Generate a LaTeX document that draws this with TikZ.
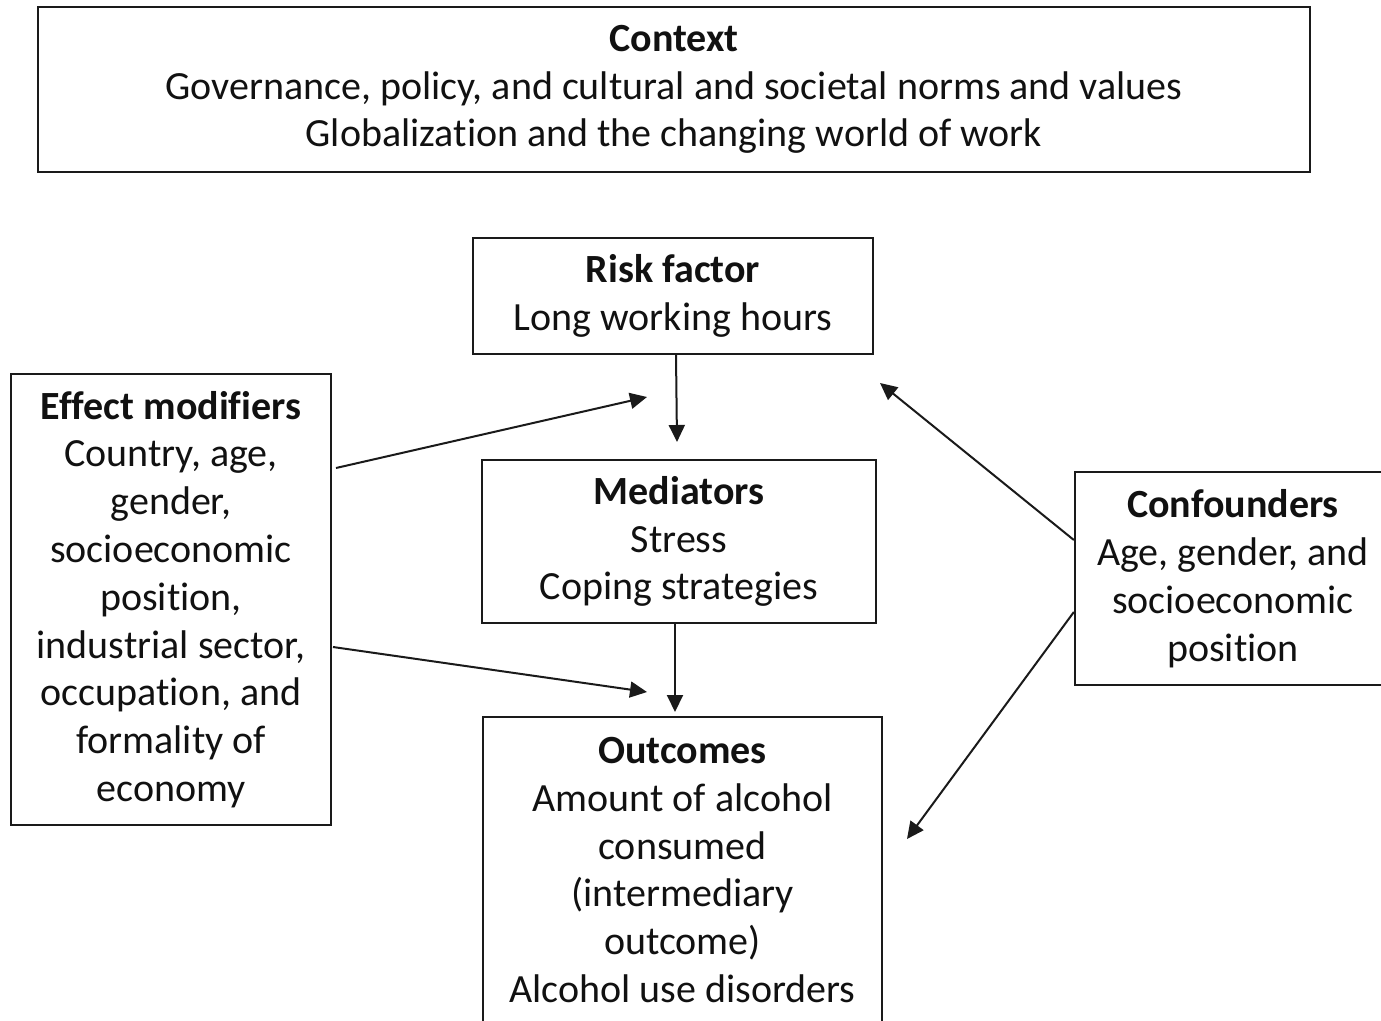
\documentclass[tikz,border=0pt]{standalone}
\usepackage{fontspec}
\setmainfont{Carlito}[Ligatures=NoCommon]
\usetikzlibrary{arrows.meta}
\definecolor{FrameInk}{HTML}{1A1A1A}
\definecolor{TextInk}{HTML}{111111}

\begin{document}
\begin{tikzpicture}[x=1pt,y=-1pt,
    box/.style={draw=FrameInk, line width=2.3pt, align=center, text=TextInk,
      inner sep=0pt, font=\fontsize{40pt}{47.8pt}\selectfont},
    link/.style={draw=FrameInk, line width=2pt, -{Triangle[length=17pt,width=16pt]}}]
  \useasboundingbox (0,0) rectangle (1381,1020);
  \clip (0,0) rectangle (1381,1020);
  % boxes, placed at their centres
  \node[box, minimum width=1272pt, minimum height=165pt] (ctx) at (674,89.5)
    {\textbf{Context}\\Governance, policy, and cultural and societal norms and values\\Globalization and the changing world of work};
  \node[box, minimum width=400pt, minimum height=116pt] (risk) at (673,296)
    {\textbf{Risk factor}\\Long working hours};
  \node[box, minimum width=394pt, minimum height=163pt] (med) at (679,541.5)
    {\textbf{Mediators}\\Stress\\Coping strategies};
  \node[box, minimum width=399pt, minimum height=306pt] (out) at (682.5,870)
    {\textbf{Outcomes}\\Amount of alcohol\\consumed\\(intermediary\\outcome)\\Alcohol use disorders};
  \node[box, minimum width=320pt, minimum height=451pt] (mod) at (171,599.5)
    {\textbf{Effect modifiers}\\Country, age,\\gender,\\socioeconomic\\position,\\industrial sector,\\occupation, and\\formality of\\economy};
  \node[box, minimum width=316pt, minimum height=213pt] (conf) at (1233,578.5)
    {\textbf{Confounders}\\Age, gender, and\\socioeconomic\\position};
  % free arrow ends
  \coordinate (riskEnd) at (677,442);
  \coordinate (medEnd) at (675,712);
  \coordinate (modTop) at (336,468);
  \coordinate (modTopEnd) at (647,397);
  \coordinate (modLow) at (333,647);
  \coordinate (modLowEnd) at (647,692);
  \coordinate (confTopEnd) at (880,383);
  \coordinate (confLowEnd) at (907,839);
  % arrows
  \draw[link] ([xshift=3pt]risk.south) -- (riskEnd);
  \draw[link] ([xshift=-4pt]med.south) -- (medEnd);
  \draw[link] (modTop) -- (modTopEnd);
  \draw[link] (modLow) -- (modLowEnd);
  \draw[link] (conf.west |- 0,540) -- (confTopEnd);
  \draw[link] (conf.west |- 0,612) -- (confLowEnd);
\end{tikzpicture}
\end{document}
